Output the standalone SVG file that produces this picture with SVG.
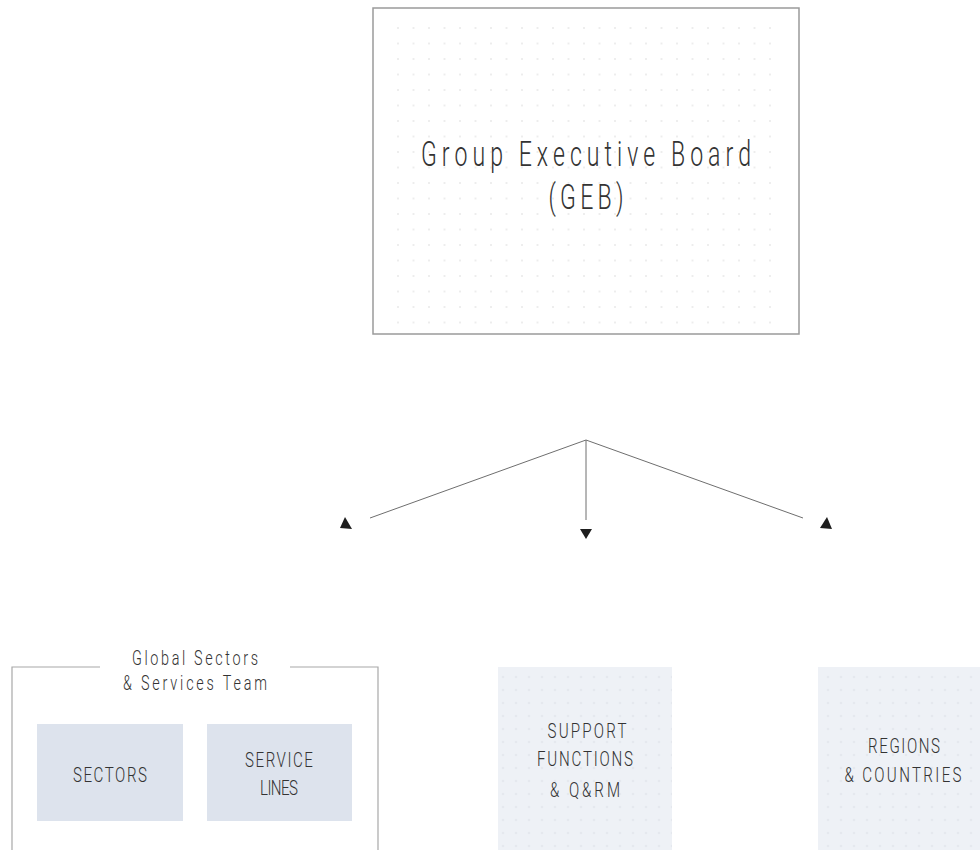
<svg xmlns="http://www.w3.org/2000/svg" width="980" height="850" viewBox="0 0 980 850">
  <style>
    .lbl { font-family: Roboto, "Liberation Sans", sans-serif; font-weight: 300; fill: #333333; text-anchor: middle; }
    .frame { fill: #ffffff; stroke: #9a9a9a; stroke-width: 1.5; }
    .bracket { fill: none; stroke: #a8a8a8; stroke-width: 1.2; }
    .conn { stroke: #6e6e6e; stroke-width: 1; fill: none; }
    .head { fill: #1e1e1e; }
  </style>
  <defs>
    <pattern id="dotsW" x="390.25" y="20.25" width="15.5" height="15.5" patternUnits="userSpaceOnUse">
      <circle cx="7.75" cy="7.75" r="0.8" fill="#d6d6d6"/>
    </pattern>
    <pattern id="dotsB" x="496.5" y="670.5" width="13" height="13" patternUnits="userSpaceOnUse">
      <circle cx="6.5" cy="6.5" r="0.8" fill="#d2d6de"/>
    </pattern>
  </defs>
  <rect width="980" height="850" fill="#ffffff"/>

  <g id="geb">
    <rect class="frame" x="373" y="8" width="426" height="326"/>
    <rect x="394" y="24" width="382" height="302" fill="url(#dotsW)"/>
    <g transform="scale(0.66 1)">
      <text class="lbl" x="887.88" y="166" font-size="35" textLength="500" lengthAdjust="spacing">Group Executive Board</text>
      <text class="lbl" x="887.88" y="209" font-size="35" textLength="113.6" lengthAdjust="spacing">(GEB)</text>
    </g>
  </g>

  <g id="connectors">
    <line class="conn" x1="586" y1="440" x2="370" y2="518"/>
    <line class="conn" x1="586" y1="440" x2="586" y2="520"/>
    <line class="conn" x1="586" y1="440" x2="803" y2="518"/>
    <polygon class="head" points="345,517 340,528 352,529"/>
    <polygon class="head" points="580,529 592,529 586,539"/>
    <polygon class="head" points="827,517 820,528 832,529"/>
  </g>

  <g id="global-sectors-services">
    <polyline class="bracket" points="100,667 12,667 12,850"/>
    <polyline class="bracket" points="290,667 378,667 378,850"/>
    <g transform="scale(0.72 1)">
      <text class="lbl" x="270.83" y="665" font-size="20" textLength="175" lengthAdjust="spacing">Global Sectors</text>
      <text class="lbl" x="270.83" y="690" font-size="20" textLength="200" lengthAdjust="spacing">&amp; Services Team</text>
    </g>
  </g>

  <g id="sectors">
    <rect x="37" y="724" width="146" height="97" fill="#dde3ed"/>
    <text class="lbl" transform="scale(0.72 1)" x="152.78" y="782" font-size="21" textLength="102.8" lengthAdjust="spacing">SECTORS</text>
  </g>

  <g id="service-lines">
    <rect x="207" y="724" width="145" height="97" fill="#dde3ed"/>
    <g transform="scale(0.72 1)">
      <text class="lbl" x="387.5" y="767" font-size="21" textLength="94.4" lengthAdjust="spacing">SERVICE</text>
      <text class="lbl" x="387.5" y="795" font-size="21" textLength="52.8" lengthAdjust="spacing">LINES</text>
    </g>
  </g>

  <g id="support-functions">
    <rect x="498" y="667" width="174" height="183" fill="#eef1f6"/>
    <rect x="498" y="667" width="174" height="183" fill="url(#dotsB)"/>
    <g transform="scale(0.72 1)">
      <text class="lbl" x="815.28" y="738" font-size="21" textLength="109.7" lengthAdjust="spacing">SUPPORT</text>
      <text class="lbl" x="812.5" y="766" font-size="21" textLength="133.3" lengthAdjust="spacing">FUNCTIONS</text>
      <text class="lbl" x="812.5" y="797" font-size="21" textLength="97.2" lengthAdjust="spacing">&amp; Q&amp;RM</text>
    </g>
  </g>

  <g id="regions-countries">
    <rect x="818" y="667" width="162" height="183" fill="#eef1f6"/>
    <rect x="818" y="667" width="162" height="183" fill="url(#dotsB)"/>
    <g transform="scale(0.72 1)">
      <text class="lbl" x="1255.6" y="753" font-size="21" textLength="100" lengthAdjust="spacing">REGIONS</text>
      <text class="lbl" x="1254.2" y="782" font-size="21" textLength="162.5" lengthAdjust="spacing">&amp; COUNTRIES</text>
    </g>
  </g>
</svg>
